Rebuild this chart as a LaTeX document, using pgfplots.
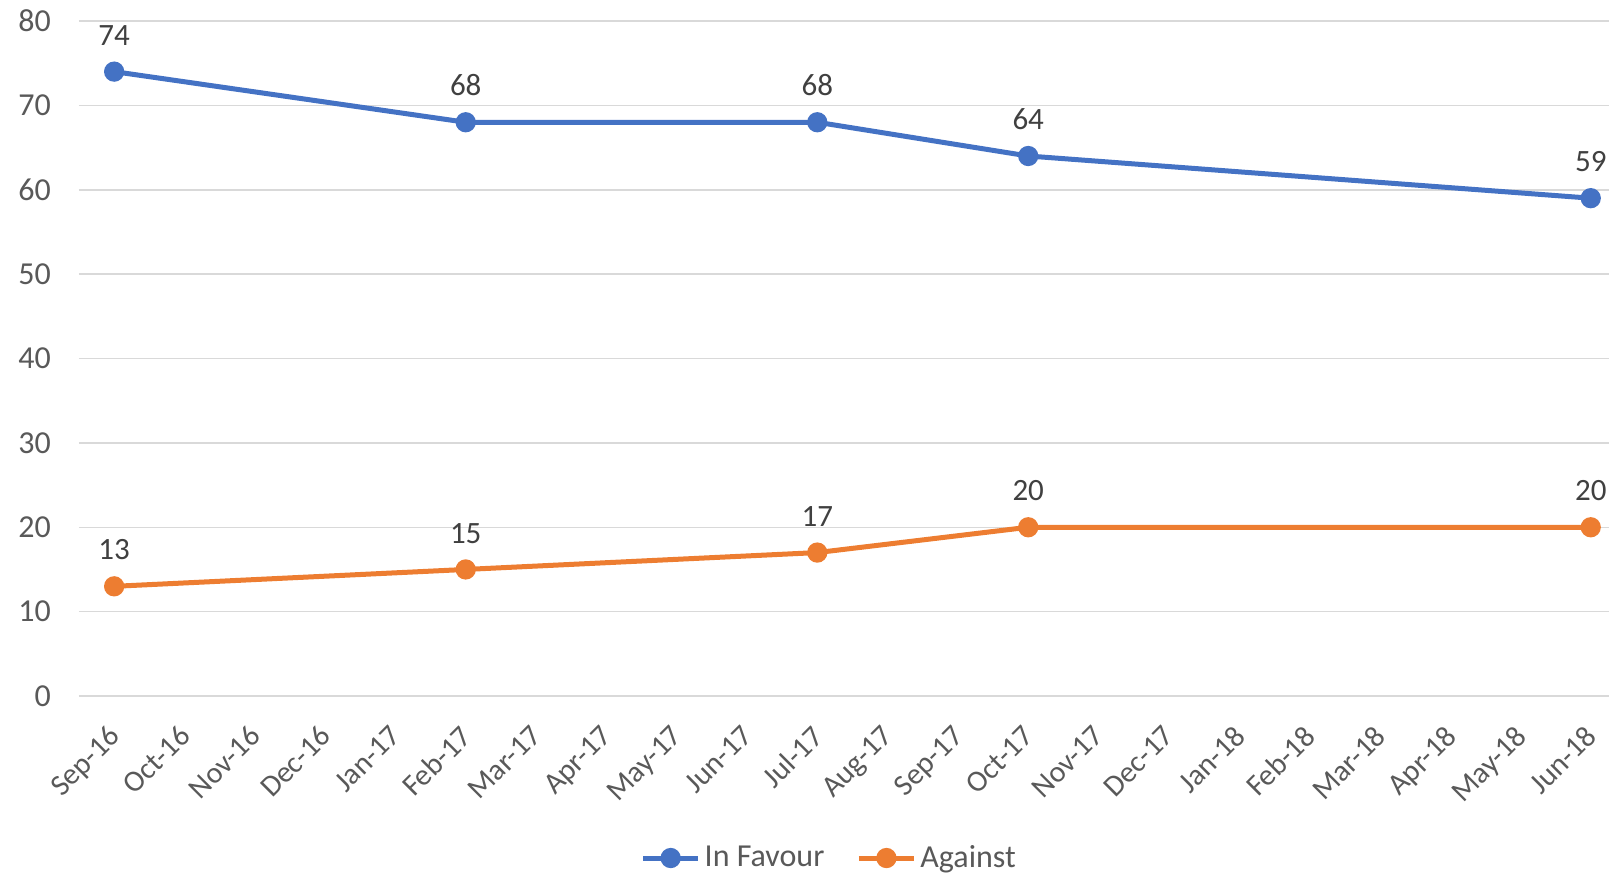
\documentclass[border=0pt]{standalone}
\usepackage{pgfplots}
\pgfplotsset{compat=1.18}
\usepackage{fontspec}
\setmainfont{Carlito}
\definecolor{cblue}{HTML}{4472C4}
\definecolor{corange}{HTML}{ED7D31}
\definecolor{ctext}{HTML}{595959}
\definecolor{clabel}{HTML}{404040}
\definecolor{cgrid}{HTML}{D9D9D9}
\begin{document}
\begin{tikzpicture}
\begin{axis}[
  scale only axis,
  width=765pt, height=337.5pt,
  xmin=-0.5, xmax=21.26,
  ymin=0, ymax=80,
  ytick={0,10,...,80},
  xtick={0,...,21},
  xticklabels={Sep-16,Oct-16,Nov-16,Dec-16,Jan-17,Feb-17,Mar-17,Apr-17,May-17,Jun-17,Jul-17,Aug-17,Sep-17,Oct-17,Nov-17,Dec-17,Jan-18,Feb-18,Mar-18,Apr-18,May-18,Jun-18},
  axis line style={draw=none},
  major tick length=0pt,
  ymajorgrids,
  grid style={cgrid, line width=0.75pt},
  font=\fontsize{15}{18}\selectfont,
  tick label style={text=ctext, font=\fontsize{15}{18}\selectfont},
  /pgf/number format/assume math mode=true,
  yticklabel style={xshift=-10.5pt, font=\fontsize{16}{19}\selectfont},
  xticklabel style={rotate=45, anchor=north east, xshift=-8.7pt, yshift=-3.9pt},
  clip=false,
  nodes near coords,
  every node near coord/.append style={text=clabel, font=\fontsize{15.5}{18}\selectfont, yshift=8.5pt},
  legend style={at={(0.491,-0.24)}, anchor=center, draw=none, legend columns=2,
    font=\fontsize{16}{19}\selectfont, text=ctext,
    /tikz/every even column/.append style={column sep=14pt}},
  legend image code/.code={
    \draw[#1, mark repeat=2, mark phase=2] plot coordinates {(0pt,0pt) (13.75pt,0pt) (27.5pt,0pt)};
  },
]
\addplot[cblue, line width=2.5pt, mark=*, mark size=3.8pt, mark options={solid}] coordinates {
  (0,74) (5,68) (10,68) (13,64) (21,59)};
\addlegendentry{In Favour}
\addplot[corange, line width=2.5pt, mark=*, mark size=3.8pt, mark options={solid}] coordinates {
  (0,13) (5,15) (10,17) (13,20) (21,20)};
\addlegendentry{Against}
\end{axis}
\pgfresetboundingbox
\path ([xshift=-39.5pt,yshift=-89.5pt]current axis.south west) rectangle ([yshift=10.5pt]current axis.north east);
\end{tikzpicture}
\end{document}
